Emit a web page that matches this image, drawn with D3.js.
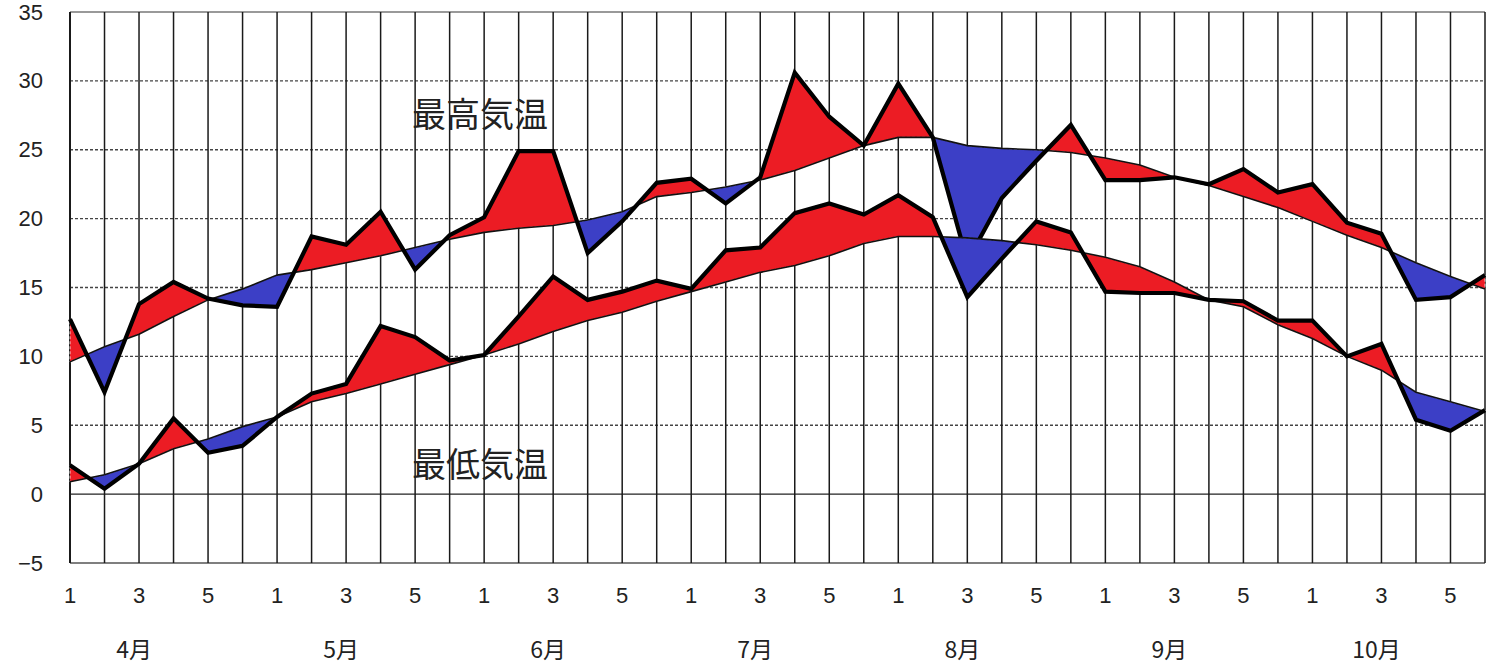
<!DOCTYPE html>
<html>
<head>
<meta charset="utf-8">
<script src="https://cdn.jsdelivr.net/npm/d3@7"></script>
<style>
  body { margin: 0; background: #fff; }
  text { font-family: "Liberation Sans", Arial, "Noto Sans CJK JP", sans-serif; fill: #222; }
  .jp { font-family: "Noto Sans CJK JP", "Liberation Sans", sans-serif; }
</style>
</head>
<body>
<svg id="chart" width="1494" height="668"></svg>
<script>
// months, 6 pentads each
var months = ['4月', '5月', '6月', '7月', '8月', '9月', '10月'];
var pentadLabels = ['1', '', '3', '', '5', ''];
var yTicks = [-5, 0, 5, 10, 15, 20, 25, 30, 35];

var highObs = [12.7, 7.4, 13.8, 15.4, 14.2, 13.7, 13.6, 18.7, 18.1, 20.5, 16.3, 18.8, 20.1, 24.9,
  24.9, 17.5, 19.8, 22.6, 22.9, 21.1, 23.0, 30.6, 27.4, 25.3, 29.8, 25.9, 16.9, 21.5, 24.2, 26.8,
  22.8, 22.8, 23.0, 22.5, 23.6, 21.9, 22.5, 19.7, 18.9, 14.1, 14.3, 15.9];
var highNorm = [9.6, 10.7, 11.6, 12.9, 14.1, 14.9, 15.9, 16.3, 16.8, 17.3, 17.9, 18.5, 19.0, 19.3,
  19.5, 19.9, 20.5, 21.6, 21.9, 22.3, 22.8, 23.5, 24.4, 25.3, 25.9, 25.9, 25.3, 25.1, 25.0, 24.8,
  24.4, 23.9, 23.0, 22.4, 21.6, 20.8, 19.8, 18.8, 17.9, 16.8, 15.8, 14.9];
var lowObs = [2.1, 0.4, 2.2, 5.5, 3.0, 3.5, 5.6, 7.3, 8.0, 12.2, 11.4, 9.7, 10.1, 12.9, 15.8, 14.1,
  14.7, 15.5, 14.9, 17.7, 17.9, 20.4, 21.1, 20.3, 21.7, 20.1, 14.3, 17.1, 19.8, 19.0, 14.7, 14.6,
  14.6, 14.1, 14.0, 12.6, 12.6, 10.0, 10.9, 5.4, 4.6, 6.1];
var lowNorm = [0.9, 1.4, 2.2, 3.3, 4.0, 4.9, 5.6, 6.7, 7.3, 8.0, 8.7, 9.4, 10.1, 10.9, 11.8, 12.6,
  13.2, 14.0, 14.7, 15.4, 16.1, 16.6, 17.3, 18.2, 18.7, 18.7, 18.6, 18.4, 18.1, 17.7, 17.2, 16.5,
  15.4, 14.1, 13.6, 12.3, 11.3, 10.0, 9.0, 7.4, 6.7, 6.0];
// intervals (start pentad index) the source shades warm even though below normal
var highWarmIntervals = [29, 30, 31];
var lowWarmIntervals = [29, 30, 31, 32];

var seriesLabels = [
  { text: '最高気温', at: [10, 27.7] },
  { text: '最低気温', at: [10, 2.3] }
];

var svg = d3.select('#chart');
var n = highObs.length;

var x = d3.scaleLinear().domain([0, n - 1]).range([70, 1485]);
var y = d3.scaleLinear().domain([-5, 35]).range([563, 12]);

var warm = '#ec1c24', cold = '#3c3fc6';

// horizontal grid
svg.append('g').selectAll('line')
  .data(yTicks.filter(function(t) { return t !== -5 && t !== 35 && t !== 0; }))
  .join('line')
  .attr('x1', x(0)).attr('x2', x(n - 1))
  .attr('y1', function(d) { return y(d); }).attr('y2', function(d) { return y(d); })
  .attr('stroke', '#444').attr('stroke-width', 1.3).attr('stroke-dasharray', '3,2');

svg.append('line').attr('x1', x(0)).attr('x2', x(n - 1))
  .attr('y1', y(0)).attr('y2', y(0)).attr('stroke', '#222').attr('stroke-width', 1.3);
svg.append('line').attr('x1', x(0)).attr('x2', x(n - 1))
  .attr('y1', y(35)).attr('y2', y(35)).attr('stroke', '#777').attr('stroke-width', 1.5);
svg.append('line').attr('x1', x(0)).attr('x2', x(n - 1))
  .attr('y1', y(-5)).attr('y2', y(-5)).attr('stroke', '#555').attr('stroke-width', 1.5);

// vertical grid, one per pentad
svg.append('g').selectAll('line')
  .data(d3.range(n))
  .join('line')
  .attr('x1', function(d) { return x(d); }).attr('x2', function(d) { return x(d); })
  .attr('y1', y(35)).attr('y2', y(-5))
  .attr('stroke', '#1a1a1a').attr('stroke-width', function(d) { return d === 0 ? 2 : 1.5; });

// split into runs of same colour, inserting crossing points
function runs(obs, norm, warmIntervals) {
  var out = [], cur = null;
  for (var i = 0; i < obs.length - 1; i++) {
    var d0 = obs[i] - norm[i], d1 = obs[i + 1] - norm[i + 1];
    var forced = warmIntervals.indexOf(i) >= 0;
    var pts = [{ i: i, o: obs[i], n: norm[i] }];
    if (d0 * d1 < 0) {
      var t = d0 / (d0 - d1);
      var v = obs[i] + t * (obs[i + 1] - obs[i]);
      pts.push({ i: i + t, o: v, n: v });
    }
    pts.push({ i: i + 1, o: obs[i + 1], n: norm[i + 1] });
    for (var k = 0; k < pts.length - 1; k++) {
      var a = pts[k], b = pts[k + 1];
      var mid = (a.o + b.o) / 2 - (a.n + b.n) / 2;
      var col = (forced || mid >= 0) ? warm : cold;
      if (cur && cur.col === col) {
        cur.pts.push(b);
      } else {
        cur = { col: col, pts: [a, b] };
        out.push(cur);
      }
    }
  }
  return out;
}

var area = d3.area()
  .x(function(d) { return x(d.i); })
  .y0(function(d) { return y(d.n); })
  .y1(function(d) { return y(d.o); });

var lineO = d3.line().x(function(d, i) { return x(i); }).y(function(d) { return y(d); });

[[highObs, highNorm, highWarmIntervals], [lowObs, lowNorm, lowWarmIntervals]].forEach(function(s) {
  var g = svg.append('g');
  g.selectAll('path.fill')
    .data(runs(s[0], s[1], s[2]))
    .join('path')
    .attr('class', 'fill')
    .attr('d', function(d) { return area(d.pts); })
    .attr('fill', function(d) { return d.col; })
    .attr('stroke', '#fff').attr('stroke-width', 0.8).attr('stroke-dasharray', '3,2');
  g.append('path').datum(s[1]).attr('d', lineO)
    .attr('fill', 'none').attr('stroke', '#111').attr('stroke-width', 1.6);
  g.append('path').datum(s[0]).attr('d', lineO)
    .attr('fill', 'none').attr('stroke', '#000').attr('stroke-width', 4.2)
    .attr('stroke-linejoin', 'miter').attr('stroke-miterlimit', 3);
});

// y labels
svg.append('g').selectAll('text')
  .data(yTicks)
  .join('text')
  .attr('x', 43).attr('y', function(d) { return y(d); })
  .attr('text-anchor', 'end').attr('dominant-baseline', 'central')
  .attr('font-size', 22)
  .text(function(d) { return d < 0 ? '\u2212' + Math.abs(d) : d; });

// pentad labels
svg.append('g').selectAll('text')
  .data(d3.range(n))
  .join('text')
  .attr('x', function(d) { return x(d); }).attr('y', 595)
  .attr('text-anchor', 'middle').attr('dominant-baseline', 'central')
  .attr('font-size', 22)
  .text(function(d) { return pentadLabels[d % 6]; });

// month labels
svg.append('g').selectAll('text')
  .data(months)
  .join('text')
  .attr('class', 'jp')
  .attr('x', function(d, i) { return x(i * 6 + 2) - 5; }).attr('y', 648)
  .attr('text-anchor', 'middle').attr('dominant-baseline', 'central')
  .attr('font-size', 23)
  .text(function(d) { return d; });

svg.append('g').selectAll('text')
  .data(seriesLabels)
  .join('text')
  .attr('class', 'jp')
  .attr('x', function(d) { return x(d.at[0]) - 3; }).attr('y', function(d) { return y(d.at[1]); })
  .attr('dominant-baseline', 'central')
  .attr('font-size', 34)
  .text(function(d) { return d.text; });
</script>
</body>
</html>
